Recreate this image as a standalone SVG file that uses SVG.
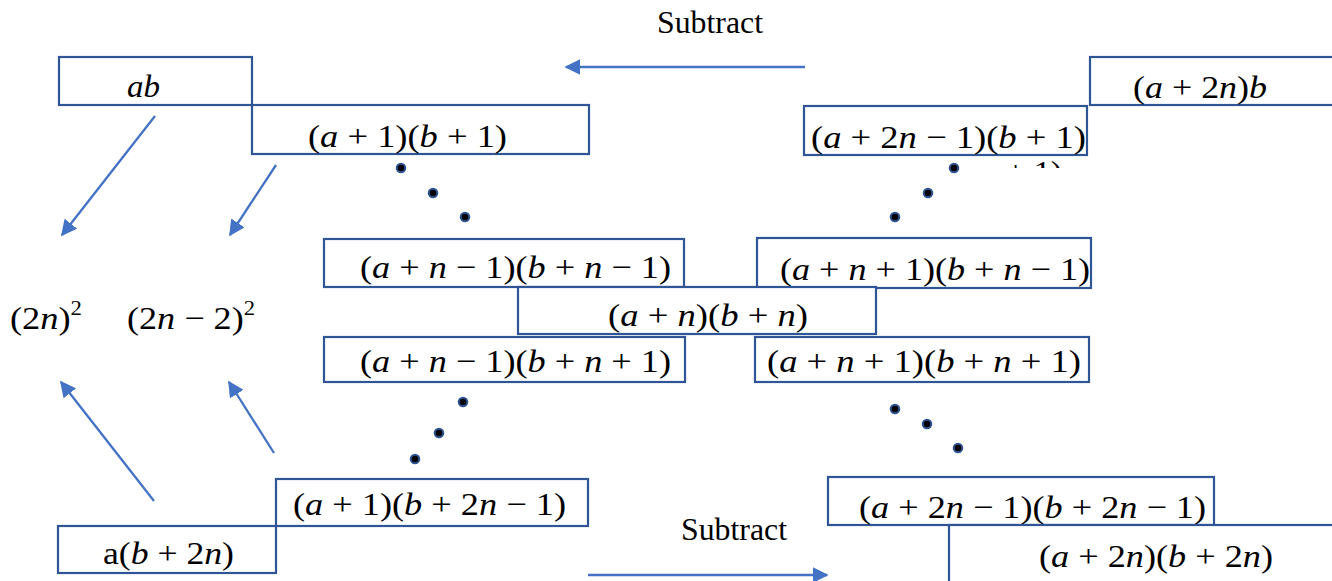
<svg xmlns="http://www.w3.org/2000/svg" width="1332" height="581" viewBox="0 0 1332 581">
<style>
.box{fill:#fff;stroke:#2F5597;stroke-width:2.2}
.m{font-family:"Liberation Serif","DejaVu Serif",serif;font-size:32px;fill:#000}
.i{font-style:italic}
.lbl{font-family:"Liberation Serif","DejaVu Serif",serif;font-size:32px;fill:#000}
.arr{stroke:#4472C4;stroke-width:2.3;fill:none}
.dot{fill:#000;stroke:#2F5597;stroke-width:2}
.sup{font-size:20px}
</style>
<defs>
<marker id="ahL" viewBox="0 0 10 10" refX="9" refY="5" markerWidth="16" markerHeight="16" orient="auto" markerUnits="userSpaceOnUse">
<path d="M0,0 L10,5 L0,10 Z" fill="#4472C4"/>
</marker>
<clipPath id="fragClip"><rect x="990" y="157" width="90" height="11"/></clipPath>
</defs>

<g id="fragment" clip-path="url(#fragClip)">
<text class="m" x="1006" y="183" textLength="56" lengthAdjust="spacingAndGlyphs">+ 1)</text>
</g>

<g id="connectors">
<line class="arr" x1="805" y1="67" x2="566" y2="67" marker-end="url(#ahL)"/>
<line class="arr" x1="588" y1="575" x2="827" y2="575" marker-end="url(#ahL)"/>
<line class="arr" x1="155" y1="116" x2="62" y2="235" marker-end="url(#ahL)"/>
<line class="arr" x1="276" y1="165" x2="230" y2="235" marker-end="url(#ahL)"/>
<line class="arr" x1="154" y1="501" x2="61" y2="382" marker-end="url(#ahL)"/>
<line class="arr" x1="274" y1="453" x2="229" y2="382" marker-end="url(#ahL)"/>
</g>

<g id="dots">
<circle class="dot" cx="401" cy="168" r="4.3"/>
<circle class="dot" cx="433" cy="193" r="4.3"/>
<circle class="dot" cx="465" cy="217" r="4.3"/>
<circle class="dot" cx="954" cy="168" r="4.3"/>
<circle class="dot" cx="928" cy="193" r="4.3"/>
<circle class="dot" cx="895" cy="217" r="4.3"/>
<circle class="dot" cx="463" cy="402" r="4.3"/>
<circle class="dot" cx="439" cy="433" r="4.3"/>
<circle class="dot" cx="415" cy="459" r="4.3"/>
<circle class="dot" cx="895" cy="409" r="4.3"/>
<circle class="dot" cx="927" cy="424" r="4.3"/>
<circle class="dot" cx="958" cy="448" r="4.3"/>
</g>

<g id="label-subtract-top"><text class="lbl" x="657" y="33" textLength="106" lengthAdjust="spacingAndGlyphs">Subtract</text></g>
<g id="label-subtract-bottom"><text class="lbl" x="681" y="540" textLength="106" lengthAdjust="spacingAndGlyphs">Subtract</text></g>

<g id="node-ab">
<rect class="box" x="59" y="57" width="193" height="48"/>
<text class="m i" x="127" y="97" textLength="33" lengthAdjust="spacingAndGlyphs">ab</text>
</g>
<g id="node-a1b1">
<rect class="box" x="252" y="105" width="337" height="49"/>
<text class="m" x="308" y="147" textLength="199" lengthAdjust="spacingAndGlyphs">(<tspan class="i">a</tspan> + 1)(<tspan class="i">b</tspan> + 1)</text>
</g>
<g id="node-a2nb">
<rect class="box" x="1090" y="57" width="245" height="48"/>
<text class="m" x="1133" y="98" textLength="134" lengthAdjust="spacingAndGlyphs">(<tspan class="i">a</tspan> + 2<tspan class="i">n</tspan>)<tspan class="i">b</tspan></text>
</g>
<g id="node-a2n1b1">
<rect class="box" x="804" y="106" width="283" height="49"/>
<text class="m" x="811" y="148" textLength="275" lengthAdjust="spacingAndGlyphs">(<tspan class="i">a</tspan> + 2<tspan class="i">n</tspan> − 1)(<tspan class="i">b</tspan> + 1)</text>
</g>
<g id="node-an1bn1-top-left">
<rect class="box" x="324" y="239" width="360" height="48"/>
<text class="m" x="360" y="278" textLength="311" lengthAdjust="spacingAndGlyphs">(<tspan class="i">a</tspan> + <tspan class="i">n</tspan> − 1)(<tspan class="i">b</tspan> + <tspan class="i">n</tspan> − 1)</text>
</g>
<g id="node-an1bn1-top-right">
<rect class="box" x="757" y="238" width="334" height="50"/>
<text class="m" x="780" y="280" textLength="310" lengthAdjust="spacingAndGlyphs">(<tspan class="i">a</tspan> + <tspan class="i">n</tspan> + 1)(<tspan class="i">b</tspan> + <tspan class="i">n</tspan> − 1)</text>
</g>
<g id="node-anbn">
<rect class="box" x="518" y="287" width="358" height="47"/>
<text class="m" x="608" y="326" textLength="200" lengthAdjust="spacingAndGlyphs">(<tspan class="i">a</tspan> + <tspan class="i">n</tspan>)(<tspan class="i">b</tspan> + <tspan class="i">n</tspan>)</text>
</g>
<g id="node-an1bn1-bottom-left">
<rect class="box" x="324" y="337" width="361" height="45"/>
<text class="m" x="360" y="372" textLength="311" lengthAdjust="spacingAndGlyphs">(<tspan class="i">a</tspan> + <tspan class="i">n</tspan> − 1)(<tspan class="i">b</tspan> + <tspan class="i">n</tspan> + 1)</text>
</g>
<g id="node-an1bn1-bottom-right">
<rect class="box" x="755" y="337" width="334" height="45"/>
<text class="m" x="767" y="372" textLength="314" lengthAdjust="spacingAndGlyphs">(<tspan class="i">a</tspan> + <tspan class="i">n</tspan> + 1)(<tspan class="i">b</tspan> + <tspan class="i">n</tspan> + 1)</text>
</g>
<g id="node-a1b2n1">
<rect class="box" x="276" y="479" width="312" height="47"/>
<text class="m" x="293" y="515" textLength="273" lengthAdjust="spacingAndGlyphs">(<tspan class="i">a</tspan> + 1)(<tspan class="i">b</tspan> + 2<tspan class="i">n</tspan> − 1)</text>
</g>
<g id="node-ab2n">
<rect class="box" x="58" y="526" width="218" height="47"/>
<text class="m" x="103" y="564" textLength="131" lengthAdjust="spacingAndGlyphs">a(<tspan class="i">b</tspan> + 2<tspan class="i">n</tspan>)</text>
</g>
<g id="node-a2n1b2n1">
<rect class="box" x="828" y="477" width="386" height="48"/>
<text class="m" x="859" y="518" textLength="347" lengthAdjust="spacingAndGlyphs">(<tspan class="i">a</tspan> + 2<tspan class="i">n</tspan> − 1)(<tspan class="i">b</tspan> + 2<tspan class="i">n</tspan> − 1)</text>
</g>
<g id="node-a2nb2n">
<rect class="box" x="949" y="525" width="390" height="70"/>
<text class="m" x="1039" y="567" textLength="234" lengthAdjust="spacingAndGlyphs">(<tspan class="i">a</tspan> + 2<tspan class="i">n</tspan>)(<tspan class="i">b</tspan> + 2<tspan class="i">n</tspan>)</text>
</g>

<g id="result-2n-sq">
<text class="m" x="10" y="329" textLength="72" lengthAdjust="spacingAndGlyphs">(2<tspan class="i">n</tspan>)<tspan class="sup" dy="-14">2</tspan></text>
</g>
<g id="result-2n2-sq">
<text class="m" x="127" y="329" textLength="128" lengthAdjust="spacingAndGlyphs">(2<tspan class="i">n</tspan> − 2)<tspan class="sup" dy="-14">2</tspan></text>
</g>
</svg>
